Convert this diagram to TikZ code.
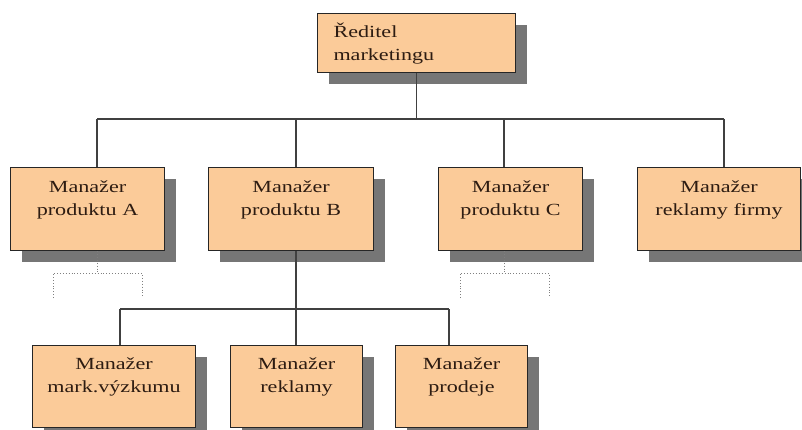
\documentclass[tikz,border=0pt]{standalone}
\usepackage{fontspec}
\setmainfont{Liberation Serif}[FakeStretch=1.3]
\usetikzlibrary{shadows}
\definecolor{peach}{RGB}{251,203,153}
\definecolor{shadowgray}{RGB}{118,118,118}
\definecolor{inkbrown}{RGB}{45,28,18}
\tikzset{
	box/.style={draw=black!85,line width=1.1pt,fill=peach,text=inkbrown,inner xsep=0pt,inner ysep=0pt,
		align=center,text height=25pt,text depth=58pt,anchor=north west,
		font=\fontsize{17}{23}\selectfont,
		drop shadow={shadow xshift=11pt,shadow yshift=-11pt,fill=shadowgray,opacity=1}},
	conn/.style={draw=black!75,line width=1.1pt},
	spare/.style={draw=gray,dotted,line width=0.9pt}
}
\begin{document}
\begin{tikzpicture}[x=1pt,y=-1pt]
	\useasboundingbox (0,0) rectangle (802,430);
	\def\busy{119}
	\def\suby{309}
	% vedeni
	\node[box,align=left,inner xsep=16pt,text width=166pt,text height=24pt,text depth=35pt] (red) at (317,13) {Ředitel\\marketingu};
	% manazeri produktu
	\node[box,text width=154pt] (pA) at (10,167) {Manažer\\produktu A};
	\node[box,text width=165pt] (pB) at (208,167) {Manažer\\produktu B};
	\node[box,text width=144pt] (pC) at (438,167) {Manažer\\produktu C};
	\node[box,text width=163pt] (rF) at (637,167) {Manažer\\reklamy firmy};
	% podrizeni manazera B
	\node[box,text width=163pt,text height=24pt] (mv) at (32,345) {Manažer\\mark.výzkumu};
	\node[box,text width=132pt,text height=24pt] (rk) at (230,345) {Manažer\\reklamy};
	\node[box,text width=132pt,text height=24pt] (pd) at (395,345) {Manažer\\prodeje};
	% spoje
	\coordinate (busL) at (97,\busy);
	\coordinate (busR) at (724,\busy);
	\draw[conn] (red.south) -- (red.south |- busL);
	\draw[conn] (busL) -- (busR);
	\foreach \x/\n in {97/pA,296/pB,504/pC,724/rF}
		\draw[conn] (\x,\busy) -- (\x,\busy |- \n.north);
	\coordinate (subL) at (120,\suby);
	\coordinate (subR) at (449,\suby);
	\draw[conn] (pB.south -| 296,0) -- (296,\suby);
	\draw[conn] (subL) -- (subR);
	\foreach \x/\n in {120/mv,296/rk,449/pd}
		\draw[conn] (\x,\suby) -- (\x,\suby |- \n.north);
	% dalsi (neobsazene) urovne
	\foreach \n/\x in {pA/97,pC/504}{
		\draw[spare] (\n.south -| \x,0) -- (\x,273);
		\draw[spare] (\x-44,298) -- (\x-44,273) -- (\x+45,273) -- (\x+45,298);
	}
\end{tikzpicture}
\end{document}
